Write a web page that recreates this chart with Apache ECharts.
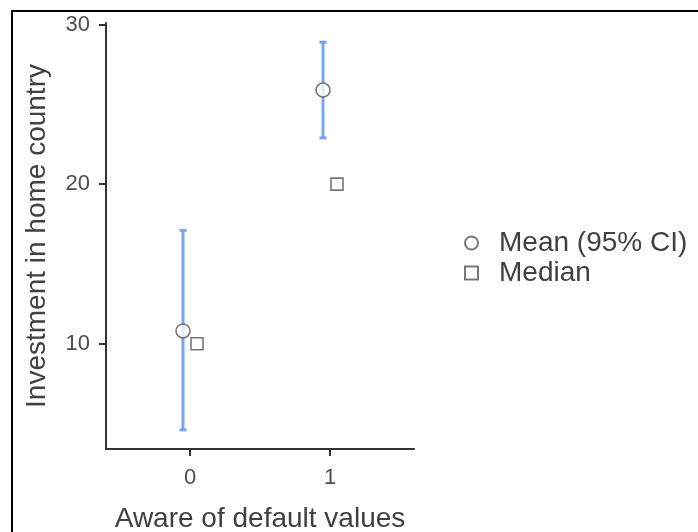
<!DOCTYPE html>
<html>
<head>
<meta charset="utf-8">
<script src="https://cdn.jsdelivr.net/npm/echarts@6/dist/echarts.min.js"></script>
<style>
  html, body { margin: 0; padding: 0; background: #fff; }
  #chart { width: 698px; height: 532px; }
</style>
</head>
<body>
<div id="chart"></div>
<script>
// aware of default values (0 = no, 1 = yes)
const groups = [0, 1]
const meanValues = [10.8, 25.9]
const ciLower = [4.6, 22.9]
const ciUpper = [17.1, 28.9]
const medianValues = [10, 20]
const xTicks = [0, 1]
const yTicks = [10, 20, 30]

const dodge = 0.05
const textColor = '#404040'
const tickColor = '#4d4d4d'
const axisColor = '#333'
const barColor = '#79a6ea'
const markerColor = '#555'

const chart = echarts.init(document.getElementById('chart'), null, { renderer: 'canvas' })

const meanData = groups.map((g, i) => [g - dodge, meanValues[i]])
const medianData = groups.map((g, i) => [g + dodge, medianValues[i]])
const ciData = groups.map((g, i) => [g - dodge, ciLower[i], ciUpper[i]])

const option = {
  backgroundColor: '#fff',
  animation: false,
  textStyle: { fontFamily: '"Liberation Sans", Arial, sans-serif' },
  graphic: [
    {
      type: 'rect',
      shape: { x: 12, y: 11, width: 720, height: 560 },
      style: { fill: 'none', stroke: '#000', lineWidth: 2 },
      silent: true
    }
  ],
  grid: { left: 106, top: 23, width: 308, height: 426, outerBoundsMode: 'none' },
  legend: {
    orient: 'vertical',
    left: 464,
    top: 229,
    padding: 0,
    itemWidth: 13,
    itemHeight: 13,
    itemGap: 2,
    data: ['Mean (95% CI)', 'Median'],
    textStyle: { color: textColor, fontSize: 28, lineHeight: 26, padding: [0, 0, 0, 16] }
  },
  xAxis: {
    type: 'value',
    min: -0.6,
    max: 1.6,
    name: 'Aware of default values',
    nameLocation: 'middle',
    nameGap: 56,
    nameTextStyle: { color: textColor, fontSize: 28 },
    axisLine: { onZero: false, lineStyle: { color: axisColor, width: 2 } },
    axisTick: { show: true, length: 7, customValues: xTicks, lineStyle: { color: axisColor, width: 2 } },
    axisLabel: { customValues: xTicks, color: tickColor, fontSize: 22, margin: 18 },
    splitLine: { show: false }
  },
  yAxis: {
    type: 'value',
    min: 3.4,
    max: 30.1,
    name: 'Investment in home country',
    nameLocation: 'middle',
    nameGap: 55,
    nameTextStyle: { color: textColor, fontSize: 28 },
    axisLine: { show: true, onZero: false, lineStyle: { color: axisColor, width: 2 } },
    axisTick: { show: true, length: 7, customValues: yTicks, lineStyle: { color: axisColor, width: 2 } },
    axisLabel: { customValues: yTicks, color: tickColor, fontSize: 22, margin: 16 },
    splitLine: { show: false }
  },
  series: [
    {
      name: 'CI',
      type: 'custom',
      data: ciData,
      z: 1,
      renderItem: (params, api) => {
        const x = api.value(0)
        const lo = api.coord([x, api.value(1)])
        const hi = api.coord([x, api.value(2)])
        const cap = 3.5
        const style = { stroke: barColor, lineWidth: 3 }
        return {
          type: 'group',
          children: [
            { type: 'line', shape: { x1: lo[0], y1: lo[1], x2: hi[0], y2: hi[1] }, style },
            { type: 'line', shape: { x1: hi[0] - cap, y1: hi[1], x2: hi[0] + cap, y2: hi[1] }, style },
            { type: 'line', shape: { x1: lo[0] - cap, y1: lo[1], x2: lo[0] + cap, y2: lo[1] }, style }
          ]
        }
      }
    },
    {
      name: 'Mean (95% CI)',
      type: 'scatter',
      data: meanData,
      symbol: 'circle',
      symbolSize: 14,
      z: 3,
      itemStyle: { color: '#fff', borderColor: markerColor, borderWidth: 1.6 }
    },
    {
      name: 'Median',
      type: 'scatter',
      data: medianData,
      symbol: 'rect',
      symbolSize: 12,
      z: 3,
      itemStyle: { color: '#fff', borderColor: markerColor, borderWidth: 1.6 }
    }
  ]
}

chart.setOption(option)
</script>
</body>
</html>
